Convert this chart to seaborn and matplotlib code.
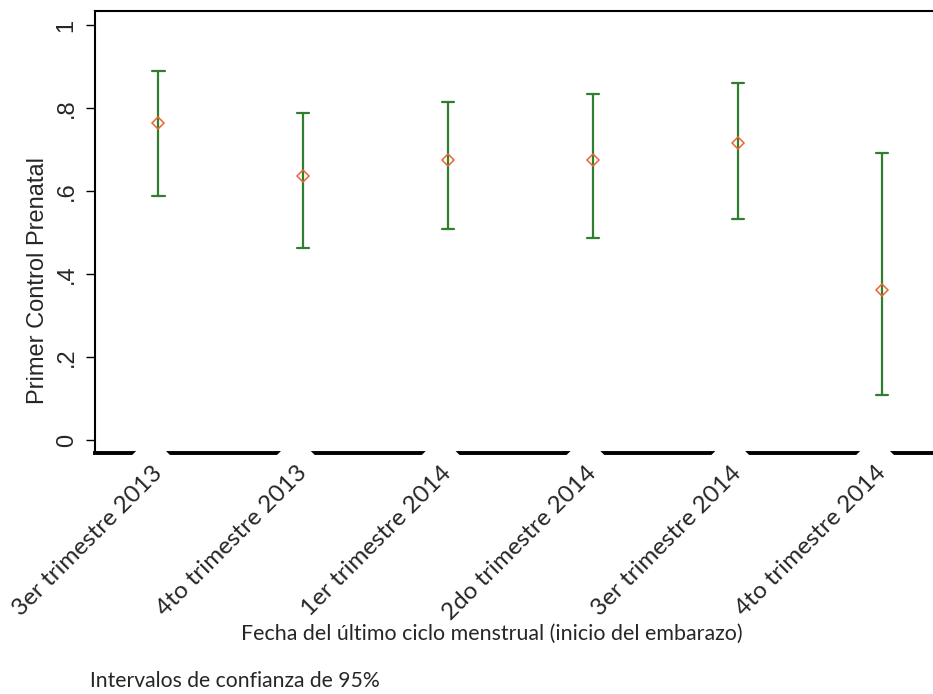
import pandas as pd
import matplotlib.pyplot as plt
import seaborn as sns

# --- DATA ---
trimestres = ['3er trimestre 2013', '4to trimestre 2013', '1er trimestre 2014',
              '2do trimestre 2014', '3er trimestre 2014', '4to trimestre 2014']
proporcion = [0.764, 0.636, 0.675, 0.675, 0.716, 0.361]
ic_inferior = [0.588, 0.463, 0.508, 0.487, 0.533, 0.108]
ic_superior = [0.889, 0.788, 0.814, 0.833, 0.860, 0.692]
yticks = [0, 0.2, 0.4, 0.6, 0.8, 1]
ytick_labels = ['0', '.2', '.4', '.6', '.8', '1']

GREEN = '#2f7f2f'
ORANGE = '#f2622e'

# Long form: every trimester carries lower bound, estimate and upper bound,
# so median -> estimate and (min, max) -> the 95% interval
df = pd.DataFrame({
    'trimestre': trimestres * 3,
    'valor': ic_inferior + proporcion + ic_superior,
})

sns.set_style('white')

fig = plt.figure(figsize=(9.33, 6.94), dpi=100)
ax = fig.add_axes([95 / 933, 241 / 694, 838 / 933, 442 / 694])

sns.pointplot(data=df, x='trimestre', y='valor', order=trimestres,
              estimator='median', errorbar=lambda v: (v.min(), v.max()),
              color=ORANGE, markers='D', linestyles='none',
              markersize=6.3, markeredgewidth=1.1, capsize=0.083,
              err_kws={'color': GREEN, 'linewidth': 1.6}, ax=ax)

# hollow diamonds on top of the interval lines
for line in ax.lines:
    if line.get_marker() == 'D':
        line.set_markerfacecolor('none')
        line.set_markeredgecolor(ORANGE)
        line.set_zorder(5)

ax.set_xlim(-0.4385, 5.349)
ax.set_ylim(-0.0313, 1.0337)

# y axis
ax.set_yticks(yticks)
ax.set_yticklabels(ytick_labels, rotation=90, va='center', fontsize=17,
                   family='Liberation Sans')
ax.tick_params(axis='y', left=True, length=6.5, width=1, pad=6, color='black')
ax.set_ylabel('Primer Control Prenatal', fontsize=17, family='Liberation Sans')
ax.yaxis.set_label_coords(-0.0549, 0.391)

# x axis: rotated labels with white boxes that cut the thick base line
ax.set_xticks(range(len(trimestres)))
ax.set_xticklabels(trimestres, fontsize=17.5, family='Lato')
ax.tick_params(axis='x', bottom=False, length=0, pad=12)
for lab in ax.get_xticklabels():
    lab.set_rotation(45)
    lab.set_ha('right')
    lab.set_va('center')
    lab.set_rotation_mode('anchor')
    lab.set_bbox(dict(facecolor='white', edgecolor='none', boxstyle='square,pad=0.76'))
ax.xaxis.set_zorder(3)
ax.set_xlabel('')

ax.spines['right'].set_visible(False)
for side in ['left', 'top', 'bottom']:
    ax.spines[side].set_color('black')
ax.spines['left'].set_linewidth(1.5)
ax.spines['top'].set_linewidth(1.5)
ax.spines['bottom'].set_linewidth(2.8)

fig.text(492 / 933, 1 - 634 / 694,
         'Fecha del último ciclo menstrual (inicio del embarazo)',
         ha='center', va='center', fontsize=15.4, family='Lato')
fig.text(90 / 933, 1 - 681 / 694, 'Intervalos de confianza de 95%',
         ha='left', va='center', fontsize=15.2, family='Lato')

fig.savefig('out.png', dpi=100)
